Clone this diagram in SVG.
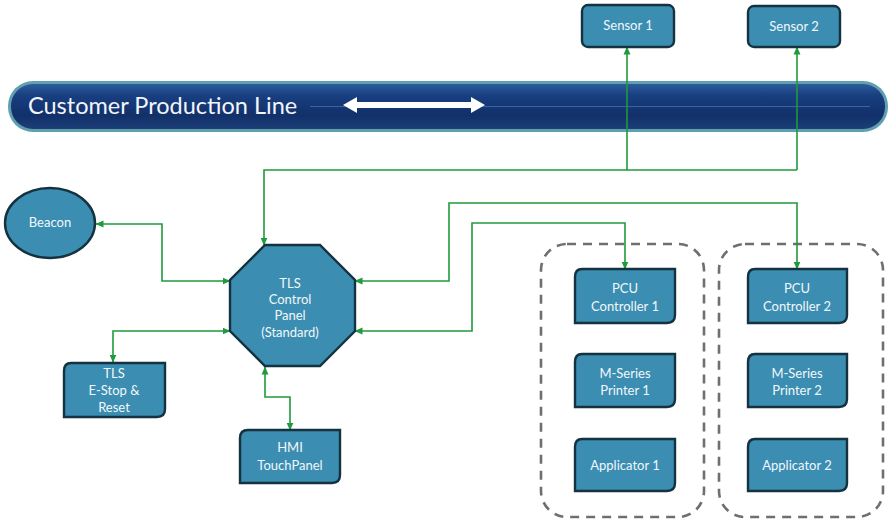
<svg xmlns="http://www.w3.org/2000/svg" width="890" height="521" viewBox="0 0 890 521">
<defs>
<style>
.box{fill:#3b8db2;stroke:#14323f;stroke-width:2.4}
.t{font-family:Lato,"Open Sans","DejaVu Sans",sans-serif;font-size:13px;fill:#f2f8fb;text-anchor:middle}
.c{fill:none;stroke:#1f9a3c;stroke-width:1.6;marker-start:url(#ah);marker-end:url(#ah)}
.c1{fill:none;stroke:#1f9a3c;stroke-width:1.6}
.grp{fill:none;stroke:#6f6f6f;stroke-width:2.6;stroke-dasharray:9 7}
</style>
<marker id="ah" viewBox="0 0 8 8" refX="7.5" refY="4" markerWidth="8" markerHeight="8" markerUnits="userSpaceOnUse" orient="auto-start-reverse">
<path d="M0,0.5 L8,4 L0,7.5 z" fill="#1f9a3c"/>
</marker>
<linearGradient id="bar" x1="0" y1="0" x2="0" y2="1">
<stop offset="0" stop-color="#2d5c9a"/>
<stop offset="0.25" stop-color="#183f80"/>
<stop offset="0.7" stop-color="#12306a"/>
<stop offset="1" stop-color="#1c3f78"/>
</linearGradient>
</defs>
<rect width="890" height="521" fill="#ffffff"/>
<g id="production-line">
<rect x="8" y="81" width="880" height="51" rx="25" fill="#5f9fb0"/>
<rect x="11" y="84" width="874" height="45" rx="22" fill="url(#bar)"/>
<line x1="310" y1="106.5" x2="870" y2="106.5" stroke="#3a64a0" stroke-width="1.2"/>
<text x="28" y="114" font-family="Lato,'Open Sans','DejaVu Sans',sans-serif" font-size="23.5" fill="#f2f5fa">Customer Production Line</text>
<path d="M343,105 L357,97 L357,102 L471,102 L471,97 L485,105 L471,113 L471,108 L357,108 L357,113 z" fill="#ffffff"/>
</g>
<g id="groups">
<rect class="grp" x="541" y="244" width="163" height="273" rx="26"/>
<rect class="grp" x="719" y="244" width="164" height="273" rx="26"/>
</g>
<g id="connectors">
<path class="c" d="M96,224 H162 V281 H230"/>
<path class="c" d="M113,362 V331 H230"/>
<path class="c" d="M265,367 V397 H290 V430"/>
<path class="c" d="M627,47 V170 H264 V245"/>
<path class="c1" d="M797,170 H627"/>
<path class="c1" d="M797,170 V47" marker-end="url(#ah)"/>
<path class="c" d="M355,281 H449 V203 H797 V269"/>
<path class="c" d="M355,331 H472 V223 H625 V269"/>
</g>
<g id="sensor1">
<rect class="box" x="582" y="5" width="92" height="42" rx="6"/>
<text class="t" x="628" y="30">Sensor 1</text>
</g>
<g id="sensor2">
<rect class="box" x="748" y="6" width="92" height="41" rx="6"/>
<text class="t" x="794" y="31">Sensor 2</text>
</g>
<g id="beacon">
<ellipse class="box" cx="50" cy="223" rx="45" ry="35"/>
<text class="t" x="50" y="227" font-size="12.5">Beacon</text>
</g>
<g id="tls-control-panel">
<polygon class="box" points="265,245 320,245 355,280 355,331 320,366 265,366 230,331 230,280"/>
<text class="t" x="290" y="288" font-size="12.5">TLS</text>
<text class="t" x="290" y="304" font-size="12.5">Control</text>
<text class="t" x="290" y="320" font-size="12.5">Panel</text>
<text class="t" x="290" y="337" font-size="12.5">(Standard)</text>
</g>
<g id="tls-estop">
<path class="box" d="M71,363 H165 V409 Q165,417 157,417 H64 V371 Q64,363 71,363 z"/>
<text class="t" x="114" y="378">TLS</text>
<text class="t" x="114" y="395">E-Stop &amp;</text>
<text class="t" x="114" y="412">Reset</text>
</g>
<g id="hmi">
<path class="box" d="M248,430 H340 V475 Q340,483 332,483 H240 V438 Q240,430 248,430 z"/>
<text class="t" x="290" y="452">HMI</text>
<text class="t" x="290" y="470">TouchPanel</text>
</g>
<g id="pcu1">
<path class="box" d="M582,269 H675 V315 Q675,323 667,323 H575 V277 Q575,269 582,269 z"/>
<text class="t" x="625" y="293">PCU</text>
<text class="t" x="625" y="311">Controller 1</text>
</g>
<g id="printer1">
<path class="box" d="M582,354 H675 V399 Q675,407 667,407 H575 V362 Q575,354 582,354 z"/>
<text class="t" x="625" y="378">M-Series</text>
<text class="t" x="625" y="395">Printer 1</text>
</g>
<g id="applicator1">
<path class="box" d="M582,439 H675 V483 Q675,491 667,491 H575 V447 Q575,439 582,439 z"/>
<text class="t" x="625" y="470">Applicator 1</text>
</g>
<g id="pcu2">
<path class="box" d="M755,269 H847 V315 Q847,323 839,323 H748 V277 Q748,269 755,269 z"/>
<text class="t" x="797" y="293">PCU</text>
<text class="t" x="797" y="311">Controller 2</text>
</g>
<g id="printer2">
<path class="box" d="M755,354 H847 V399 Q847,407 839,407 H748 V362 Q748,354 755,354 z"/>
<text class="t" x="797" y="378">M-Series</text>
<text class="t" x="797" y="395">Printer 2</text>
</g>
<g id="applicator2">
<path class="box" d="M755,439 H847 V483 Q847,491 839,491 H748 V447 Q748,439 755,439 z"/>
<text class="t" x="797" y="470">Applicator 2</text>
</g>
</svg>
